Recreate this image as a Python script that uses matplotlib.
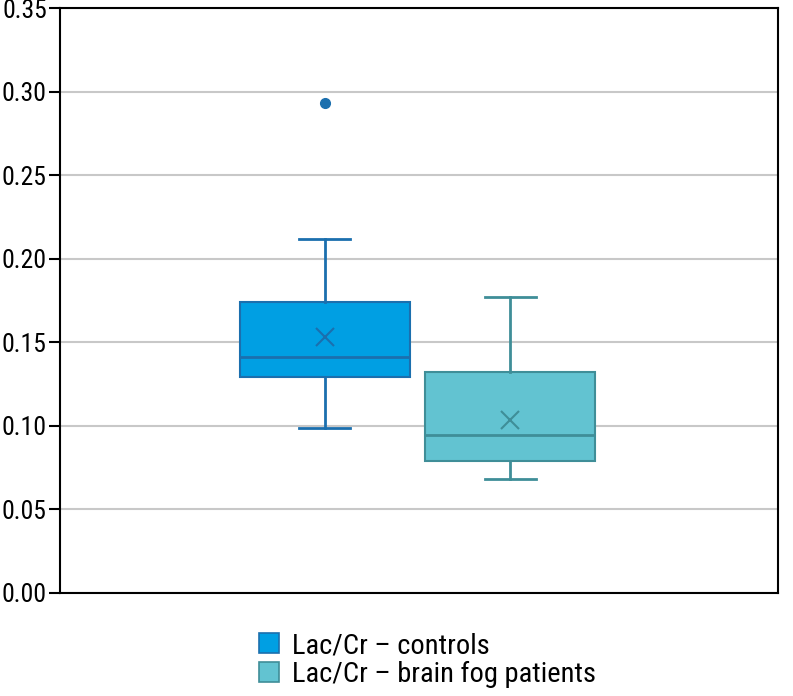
import matplotlib.pyplot as plt
from matplotlib.patches import Patch

plt.rcParams['font.family'] = ['Liberation Sans Narrow', 'Roboto Condensed', 'Lato', 'DejaVu Sans']

# box plot values
labels = ['Lac/Cr \u2013 controls', 'Lac/Cr \u2013 brain fog patients']
q1 = [0.129, 0.079]
median = [0.141, 0.0945]
q3 = [0.174, 0.132]
whis_lo = [0.099, 0.068]
whis_hi = [0.212, 0.177]
means = [0.153, 0.1035]
outliers = [[0.293], []]

fills = ['#009FE3', '#62C3D1']
edges = ['#1B6FAE', '#3F8E98']

yticks = [0.00, 0.05, 0.10, 0.15, 0.20, 0.25, 0.30, 0.35]

fig = plt.figure(figsize=(7.93, 6.96), dpi=100)
ax = fig.add_axes([60 / 793, 103 / 696, 718 / 793, 585 / 696])

positions = [0.369, 0.627]
for i in range(2):
    stats = [dict(med=median[i], q1=q1[i], q3=q3[i], whislo=whis_lo[i],
                  whishi=whis_hi[i], mean=means[i], fliers=outliers[i])]
    ax.bxp(stats, positions=[positions[i]], widths=0.237, capwidths=0.071,
           showmeans=True, patch_artist=True, manage_ticks=False,
           boxprops=dict(facecolor=fills[i], edgecolor=edges[i], linewidth=1.5),
           medianprops=dict(color=edges[i], linewidth=2),
           whiskerprops=dict(color=edges[i], linewidth=2),
           capprops=dict(color=edges[i], linewidth=2),
           meanprops=dict(marker='x', markeredgecolor=edges[i], markersize=13,
                          markeredgewidth=1.5),
           flierprops=dict(marker='o', markerfacecolor=edges[i],
                           markeredgecolor=edges[i], markersize=7))

ax.set_xlim(0, 1)
ax.set_ylim(0, 0.35)
ax.set_yticks(yticks)
ax.set_yticklabels(['%.2f' % t for t in yticks])
ax.set_xticks([])
ax.yaxis.grid(True, color='#C8C8C8', linewidth=1.5)
ax.set_axisbelow(True)
ax.tick_params(axis='y', length=8, width=1.5, pad=1.5, labelsize=18.5)
for s in ax.spines.values():
    s.set_linewidth(1.5)

handles = [Patch(facecolor=fills[i], edgecolor=edges[i], linewidth=1.2)
           for i in range(2)]
fig.legend(handles, labels, loc='upper left', bbox_to_anchor=(245 / 793, 1 - 618 / 696),
           frameon=False, fontsize=20.5, handlelength=0.7, handleheight=0.7,
           handletextpad=0.45, labelspacing=0.05, borderpad=0)

fig.savefig('out.png', dpi=100)
